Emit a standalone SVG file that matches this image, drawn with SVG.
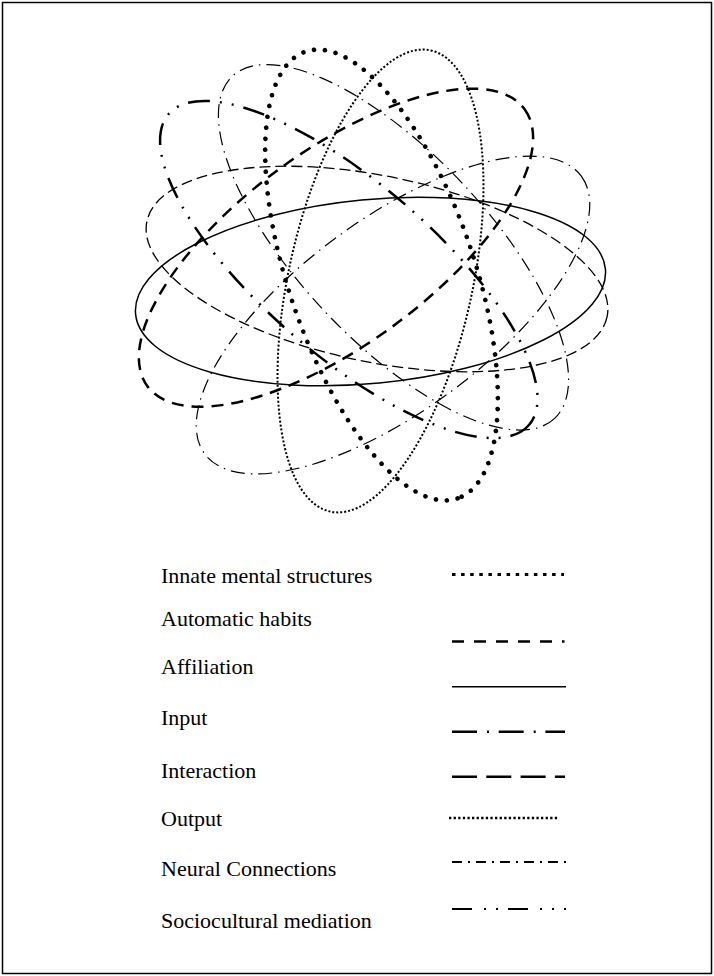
<svg xmlns="http://www.w3.org/2000/svg" width="714" height="976" viewBox="0 0 714 976">
<style>
.orb{fill:none;stroke:#000}
.solid{stroke-width:1.5}
.bigdot{stroke-width:4.6;stroke-dasharray:0 11;stroke-linecap:round}
.finedot{stroke-width:2;stroke-dasharray:2 2}
.thindash{stroke-width:1.3;stroke-dasharray:11 5}
.thickdash{stroke-width:2.5;stroke-dasharray:12 8}
.dashdotdot{stroke-width:2.5;stroke-dasharray:22 10 2 10 2 10}
.thindashdot{stroke-width:1.2;stroke-dasharray:14 6 1.5 6}
.lbl{font-family:"Liberation Serif","Times New Roman",serif;font-size:22px;fill:#000}
.leg{fill:none;stroke:#000}
</style>
<rect x="0" y="0" width="714" height="976" fill="#fff"/>
<rect x="2.5" y="2.5" width="709" height="971" fill="none" stroke="#000" stroke-width="1.5"/>
<g id="orbits">
<g id="orbit-affiliation"><ellipse class="orb solid" cx="0" cy="0" rx="236" ry="92" transform="translate(370.5,291.5) rotate(-5.5)"/></g>
<g id="orbit-innate"><ellipse class="orb bigdot" cx="0" cy="0" rx="236" ry="93" transform="translate(381.5,275) rotate(71.2)"/></g>
<g id="orbit-output"><ellipse class="orb finedot" cx="0" cy="0" rx="236" ry="92" transform="translate(380.5,281) rotate(-77.7)"/></g>
<g id="orbit-thindash"><ellipse class="orb thindash" cx="0" cy="0" rx="235" ry="93" transform="translate(377,269) rotate(11.7)"/></g>
<g id="orbit-thickdash"><ellipse class="orb thickdash" cx="0" cy="0" rx="234" ry="97" transform="translate(336,247.7) rotate(-36.3)"/></g>
<g id="orbit-sociocultural"><ellipse class="orb dashdotdot" cx="0" cy="0" rx="238" ry="86" transform="translate(348.8,269.5) rotate(40.8)"/></g>
<g id="orbit-dashdot-a"><ellipse class="orb thindashdot" cx="0" cy="0" rx="235" ry="94" transform="translate(393.5,247.3) rotate(46.7)"/></g>
<g id="orbit-dashdot-b"><ellipse class="orb thindashdot" cx="0" cy="0" rx="234" ry="96" transform="translate(393,315) rotate(-36.4)"/></g>
</g>
<g id="legend">
<g id="leg-innate"><text class="lbl" x="161" y="583">Innate mental structures</text><line class="leg" x1="452" y1="574.5" x2="564" y2="574.5" stroke-width="3" stroke-dasharray="3.5 5.6"/></g>
<g id="leg-habits"><text class="lbl" x="161" y="626">Automatic habits</text><line class="leg" x1="452" y1="641.5" x2="564.5" y2="641.5" stroke-width="2.5" stroke-dasharray="12 10"/></g>
<g id="leg-affiliation"><text class="lbl" x="161" y="674">Affiliation</text><line class="leg" x1="452" y1="686.7" x2="566" y2="686.7" stroke-width="1.5"/></g>
<g id="leg-input"><text class="lbl" x="161" y="725">Input</text><line class="leg" x1="452" y1="731.7" x2="565" y2="731.7" stroke-width="2.5" stroke-dasharray="25 10 2 9.7"/></g>
<g id="leg-interaction"><text class="lbl" x="161" y="778">Interaction</text><line class="leg" x1="452" y1="776.7" x2="565" y2="776.7" stroke-width="2.5" stroke-dasharray="25 9.3"/></g>
<g id="leg-output"><text class="lbl" x="161" y="826">Output</text><line class="leg" x1="449" y1="818" x2="559" y2="818" stroke-width="2.3" stroke-dasharray="2.3 2.3"/></g>
<g id="leg-neural"><text class="lbl" x="161" y="876">Neural Connections</text><line class="leg" x1="452" y1="862" x2="566" y2="862" stroke-width="2" stroke-dasharray="10 6 2 6"/></g>
<g id="leg-sociocultural"><text class="lbl" x="161" y="928">Sociocultural mediation</text><line class="leg" x1="452" y1="909" x2="566" y2="909" stroke-width="2" stroke-dasharray="20 12 2 10 2 10"/></g>
</g>
</svg>
